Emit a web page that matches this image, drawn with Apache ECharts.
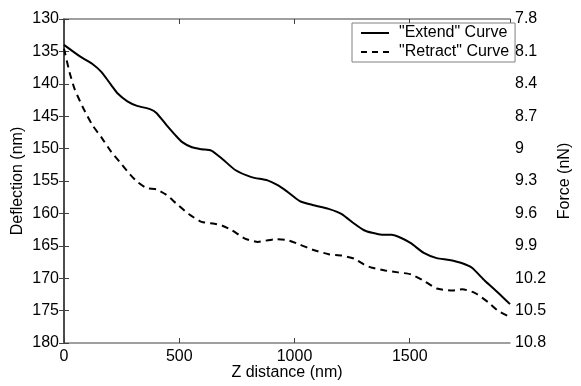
<!DOCTYPE html>
<html>
<head>
<meta charset="utf-8">
<script src="https://cdn.jsdelivr.net/npm/echarts@6/dist/echarts.min.js"></script>
<style>
  html, body { margin: 0; padding: 0; background: #fff; }
  #myChart { width: 581px; height: 386px; }
</style>
</head>
<body>
<div id="myChart"></div>
<script>
// "Extend" curve: z distance (nm) and deflection (nm)
const extendX = [0, 66, 122, 163, 205, 233, 275, 317, 373, 401, 443, 485, 513, 555, 597, 639, 687, 743, 813, 883, 925, 967, 1023, 1079, 1148, 1205, 1260, 1302, 1337, 1379, 1421, 1463, 1505, 1561, 1617, 1672, 1728, 1770, 1826, 1882, 1935]
const extendY = [134.0, 135.7, 136.9, 138.2, 140.2, 141.5, 142.7, 143.4, 143.9, 144.5, 146.3, 148.0, 149.0, 149.8, 150.1, 150.3, 151.6, 153.3, 154.4, 154.9, 155.6, 156.6, 158.1, 158.7, 159.3, 160.1, 161.6, 162.6, 163.0, 163.3, 163.3, 163.8, 164.6, 166.1, 166.9, 167.2, 167.7, 168.4, 170.4, 172.2, 174.0]

// "Retract" curve
const retractX = [0, 24, 45, 80, 122, 163, 205, 247, 282, 317, 359, 401, 443, 485, 541, 597, 653, 687, 729, 785, 841, 911, 967, 1023, 1079, 1148, 1205, 1260, 1302, 1337, 1393, 1449, 1505, 1561, 1617, 1686, 1728, 1784, 1840, 1882, 1935]
const retractY = [134.6, 138.2, 140.7, 143.5, 146.3, 148.3, 150.5, 152.3, 153.8, 155.1, 156.1, 156.3, 157.1, 158.4, 160.1, 161.3, 161.6, 161.9, 162.6, 163.9, 164.4, 164.0, 164.1, 164.8, 165.6, 166.3, 166.5, 167.0, 167.9, 168.4, 168.8, 169.1, 169.4, 170.4, 171.6, 171.9, 171.7, 172.3, 173.7, 175.0, 176.0]

// tick labels
const xTicks = [0, 500, 1000, 1500]
const deflectionTicks = ['130', '135', '140', '145', '150', '155', '160', '165', '170', '175', '180']
const forceTicks = ['7.8', '8.1', '8.4', '8.7', '9', '9.3', '9.6', '9.9', '10.2', '10.5', '10.8']

const zip = (xs, ys) => xs.map((x, i) => [x, ys[i]])
const font = 'Liberation Sans, Arial, sans-serif'
const boxLine = { show: true, lineStyle: { color: '#808080', width: 1.5 } }
const sideLine = { show: true, lineStyle: { color: '#404040', width: 1.5 } }
const ticksIn = { show: true, inside: true, length: 5, lineStyle: { color: '#404040' } }
const nameStyle = { fontSize: 16, color: '#000', fontFamily: font }
const tickStyle = { fontSize: 16, color: '#000', fontFamily: font }

let myChart = echarts.init(document.getElementById('myChart'))
myChart.setOption({
  animation: false,
  backgroundColor: '#fff',
  textStyle: { fontFamily: font },
  grid: { left: 64, right: 55, top: 19, bottom: 36 },
  legend: {
    orient: 'vertical',
    left: 352,
    top: 23,
    padding: [2, 6, 2, 9],
    itemGap: 3,
    itemWidth: 28,
    itemHeight: 2,
    borderColor: '#808080',
    borderWidth: 1,
    backgroundColor: '#fff',
    textStyle: { fontFamily: font, fontSize: 16, color: '#000', padding: [0, 0, 0, 5] },
    data: [
      { name: '"Extend" Curve', icon: 'path://M0,0h28v2h-28z' },
      { name: '"Retract" Curve', icon: 'path://M0,0h6v2h-6z M11,0h6v2h-6z M22,0h6v2h-6z' }
    ]
  },
  xAxis: [{
    type: 'value',
    min: 0,
    max: 1935,
    interval: 500,
    name: 'Z distance (nm)',
    nameLocation: 'middle',
    nameGap: 22,
    nameMoveOverlap: false,
    nameTextStyle: nameStyle,
    axisLine: boxLine,
    axisTick: ticksIn,
    splitLine: { show: false },
    axisLabel: Object.assign({
      margin: 6,
      showMaxLabel: false,
      formatter: v => xTicks.indexOf(v) >= 0 ? String(v) : ''
    }, tickStyle)
  }, {
    type: 'value',
    position: 'top',
    min: 0,
    max: 1935,
    interval: 500,
    axisLine: boxLine,
    axisTick: ticksIn,
    axisLabel: { show: false },
    splitLine: { show: false }
  }],
  yAxis: [{
    type: 'value',
    inverse: true,
    min: 130,
    max: 180,
    interval: 5,
    name: 'Deflection (nm)',
    nameLocation: 'middle',
    nameRotate: 90,
    nameGap: 38,
    nameMoveOverlap: false,
    nameTextStyle: nameStyle,
    axisLine: sideLine,
    axisTick: ticksIn,
    splitLine: { show: false },
    axisLabel: Object.assign({
      margin: 5,
      formatter: (v) => deflectionTicks[Math.round((v - 130) / 5)]
    }, tickStyle)
  }, {
    type: 'value',
    position: 'right',
    inverse: true,
    min: 130,
    max: 180,
    interval: 5,
    name: 'Force (nN)',
    nameLocation: 'middle',
    nameRotate: 90,
    nameGap: 47,
    nameMoveOverlap: false,
    nameTextStyle: nameStyle,
    axisLine: sideLine,
    axisTick: ticksIn,
    splitLine: { show: false },
    axisLabel: Object.assign({
      margin: 5,
      formatter: (v) => forceTicks[Math.round((v - 130) / 5)]
    }, tickStyle)
  }],
  series: [{
    name: '"Extend" Curve',
    type: 'line',
    symbol: 'none',
    smooth: 0.2,
    lineStyle: { color: '#000', width: 2 },
    itemStyle: { color: '#000' },
    data: zip(extendX, extendY)
  }, {
    name: '"Retract" Curve',
    type: 'line',
    symbol: 'none',
    smooth: 0.2,
    lineStyle: { color: '#000', width: 2, type: [7, 5] },
    itemStyle: { color: '#000' },
    data: zip(retractX, retractY)
  }]
})
</script>
</body>
</html>
